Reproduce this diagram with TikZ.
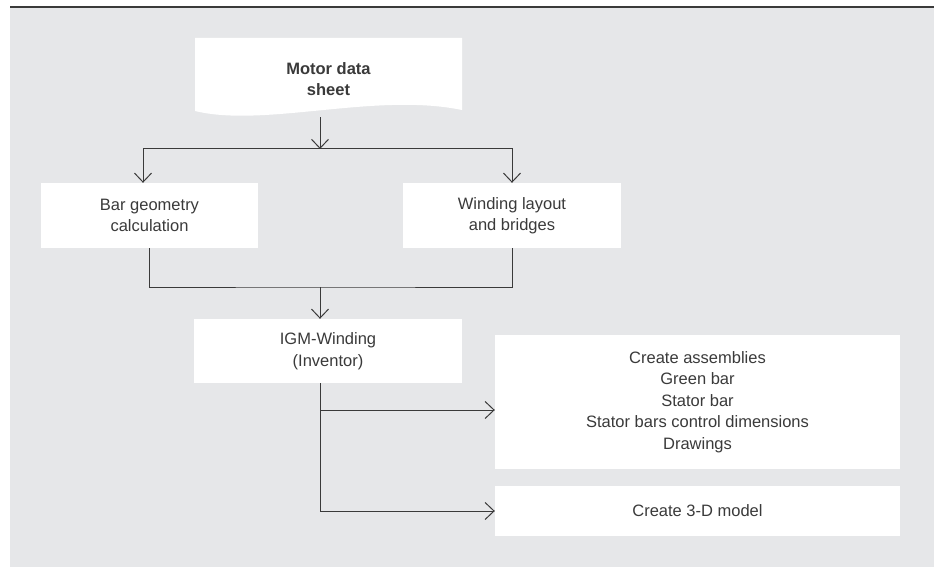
\documentclass[tikz,border=0pt]{standalone}
\usepackage{fontspec}
\setmainfont{Liberation Sans}
\usepackage{tikz}
\usetikzlibrary{positioning,arrows.meta}
\definecolor{panel}{HTML}{E6E7E9}
\definecolor{ink}{HTML}{3A3A3A}

\begin{document}
\begin{tikzpicture}[x=1pt,y=-1pt,on grid,auto,
        every node/.style={font=\fontsize{16.5}{21.5}\selectfont,text=ink,align=center},
        box/.style={rectangle,fill=white,inner sep=0pt},
        flow/.style={draw=ink,line width=1pt,-{Straight Barb[length=9pt,width=17pt]}},
        link/.style={draw=ink,line width=1pt}]
        \useasboundingbox (0,0) rectangle (938,567);
        \fill[panel] (10,7) rectangle (934,567);
        \draw[ink,line width=1.3pt] (10,7) -- (934,7);
        \fill[white] (195,38) -- (462,38) -- (462,110)
            .. controls (375,92) and (265,128) .. (195,111) -- cycle;
        \node[minimum height=76pt] (sheet) at (328.5,79) {\textbf{Motor data}\\\textbf{sheet}};
        \node[box,minimum width=217pt,minimum height=65pt] (bar) at (149.5,215.5) {Bar geometry\\calculation};
        \node[box,minimum width=218pt,minimum height=65pt,right=362.5pt of bar] (wind) {Winding layout\\and bridges};
        \node[box,minimum width=268pt,minimum height=64pt,below right=135.5pt and 178.5pt of bar] (igm) {IGM-Winding\\(Inventor)};
        \node[box,minimum width=405pt,minimum height=134pt,below right=51pt and 369.5pt of igm] (asm)
            {Create assemblies\\Green bar\\Stator bar\\Stator bars control dimensions\\Drawings};
        \node[box,minimum width=405pt,minimum height=50pt,below=109pt of asm] (model) {Create 3-D model};
        \coordinate (split) at (320,149);
        \coordinate (merge) at (320,287);
        \coordinate (fork) at (igm.south -| merge);
        \draw[flow] (sheet.south -| split) -- (split);
        \draw[flow] (split) -| ([xshift=-6.5pt]bar.north);
        \draw[flow] (split) -| (wind.north);
        \draw[link] (bar.south) |- (merge) -| (wind.south);
        \draw[flow] (merge) -- (merge |- igm.north);
        \draw[flow] (fork) |- ([yshift=-8pt]asm.west);
        \draw[flow] (fork) |- (model.west);
\end{tikzpicture}
\end{document}
